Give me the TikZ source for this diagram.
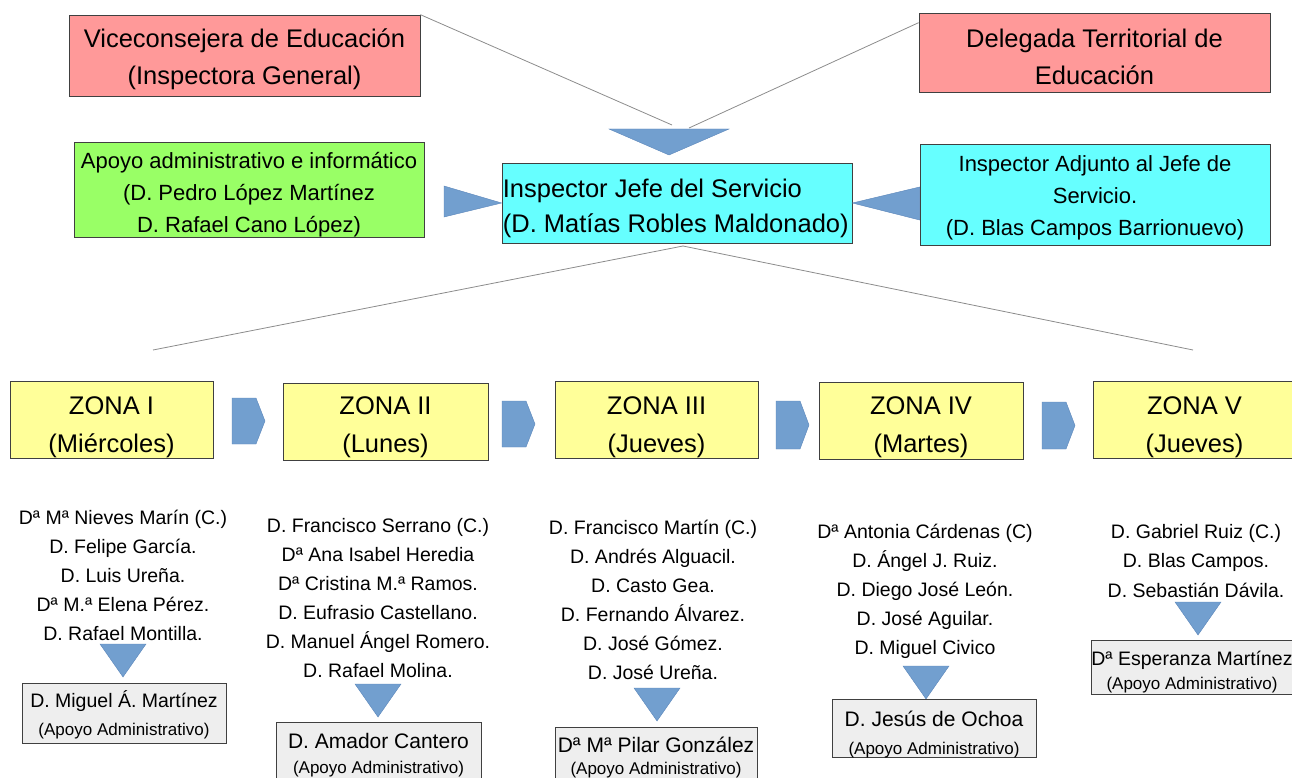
\documentclass[tikz,border=0pt]{standalone}
\usepackage{fontspec}
\setmainfont{Liberation Sans}
\usetikzlibrary{calc, positioning}

\definecolor{rosa}{HTML}{FF9999}
\definecolor{verde}{HTML}{99FF66}
\definecolor{celeste}{HTML}{66FFFF}
\definecolor{amarillo}{HTML}{FFFF99}
\definecolor{gris}{HTML}{EEEEEE}
\definecolor{azul}{HTML}{729FCF}
\definecolor{azulb}{HTML}{5B86BA}

\begin{document}
\begin{tikzpicture}[x=1pt, y=-1pt,
  caja/.style={draw=black!75, line width=0.7pt, inner sep=0pt},
  zona/.style={caja, fill=amarillo, minimum width=204pt, minimum height=77pt},
  aux/.style={caja, fill=gris},
  grande/.style={align=center, inner sep=0pt, font=\fontsize{25.5}{37}\selectfont},
  medio/.style={align=center, inner sep=0pt, font=\fontsize{22}{32}\selectfont},
  lista/.style={align=center, inner sep=0pt, font=\fontsize{19.5}{29}\selectfont},
  nombre/.style={align=center, inner sep=0pt, font=\fontsize{21}{#1}\selectfont},
  tri/.style={fill=azul, draw=azulb, line width=0.4pt},
  linea/.style={draw=black!45, line width=0.8pt}]
  \useasboundingbox (0,0) rectangle (1292,778);
  \clip (0,0) rectangle (1292,778);

  % cargos superiores
  \node[caja, fill=rosa, minimum width=351pt, minimum height=81pt] (vice) at (244.5,55.5) {};
  \node[grande] (vicet) at (244.5,59) {Viceconsejera de Educación\\(Inspectora General)};
  \node[caja, fill=rosa, minimum width=351pt, minimum height=79pt] (dele) at (1094.5,52.5) {};
  \node[grande] (delet) at (1094.5,57) {Delegada Territorial de\\Educación};
  \node[caja, fill=verde, minimum width=350pt, minimum height=95pt] (apoyo) at (249,189.5) {};
  \node[medio] (apoyot) at (249,195) {Apoyo administrativo e informático\\(D. Pedro López Martínez\\D. Rafael Cano López)};
  \node[caja, fill=celeste, minimum width=350pt, minimum height=80pt] (jefe) at (677,203) {};
  \node[grande, align=left, anchor=west, font=\fontsize{25.5}{35}\selectfont] (jefet)
    at ($(jefe.west)+(1,5)$) {Inspector Jefe del Servicio\\(D. Matías Robles Maldonado)};
  \node[caja, fill=celeste, minimum width=350pt, minimum height=101pt] (adjunto) at (1095,194.5) {};
  \node[medio] (adjuntot) at (1095,197.5) {Inspector Adjunto al Jefe de\\Servicio.\\(D. Blas Campos Barrionuevo)};

  \coordinate (topL) at (672,125);
  \coordinate (topR) at (689,128);
  \draw[linea] (vice.north east) -- (topL);
  \draw[linea] ($(dele.north west)+(0,10)$) -- (topR);
  \draw[tri] (609,129) -- (729,129) -- (669,155) -- cycle;
  \draw[tri] (444,186) -- (444,217) -- (jefe.west) -- cycle;
  \draw[tri] (adjunto.west |- 0,187) -- (adjunto.west |- 0,220) -- (jefe.east) -- cycle;

  % reparto en zonas
  \coordinate (fork) at (683,246);
  \coordinate (izq) at (153,350);
  \coordinate (der) at (1193,350);
  \draw[linea] (izq) -- (fork) -- (der);

  \node[zona, minimum width=203pt] (z1) at (111.5,419.5) {};
  \node[zona, minimum width=205pt] (z2) at (385.5,421.5) {};
  \node[zona, minimum width=203pt] (z3) at (656.5,419.5) {};
  \node[zona] (z4) at (921,420.5) {};
  \node[zona, minimum width=203pt] (z5) at (1194.5,420) {};
  \foreach \n/\dia in {1/Miércoles, 2/Lunes, 3/Jueves, 4/Martes, 5/Jueves}
    \node[grande, font=\fontsize{25.5}{38}\selectfont] (z\n t) at (z\n |- 0,427.5)
      {ZONA \ifcase\n\or I\or II\or III\or IV\or V\fi\\(\dia)};
  \foreach \x/\t/\b in {232/398/444, 502/401/447, 776/401/449, 1042/402/449}
    \draw[tri] (\x,\t) -- ({\x+24},\t) -- ({\x+33},{(\t+\b)/2}) -- ({\x+24},\b) -- (\x,\b) -- cycle;

  % inspectores de cada zona
  \node[lista] (lista1) at (123,575)
    {Dª Mª Nieves Marín (C.)\\D. Felipe García.\\D. Luis Ureña.\\Dª M.ª Elena Pérez.\\D. Rafael Montilla.};
  \node[lista] (lista2) at (378,598)
    {D. Francisco Serrano (C.)\\Dª Ana Isabel Heredia\\Dª Cristina M.ª Ramos.\\D. Eufrasio Castellano.\\D. Manuel Ángel Romero.\\D. Rafael Molina.};
  \node[lista] (lista3) at (653,600)
    {D. Francisco Martín (C.)\\D. Andrés Alguacil.\\D. Casto Gea.\\D. Fernando Álvarez.\\D. José Gómez.\\D. José Ureña.};
  \node[lista] (lista4) at (925,591)
    {Dª Antonia Cárdenas (C)\\D. Ángel J. Ruiz.\\D. Diego José León.\\D. José Aguilar.\\D. Miguel Civico};
  \node[lista, font=\fontsize{19.5}{29.5}\selectfont] (lista5) at (1196,561)
    {D. Gabriel Ruiz (C.)\\D. Blas Campos.\\D. Sebastián Dávila.};

  \foreach \x/\y in {123/644, 378/684, 657/688, 926/666, 1198/602}
    \draw[tri] ({\x-23},\y) -- ({\x+23},\y) -- (\x,{\y+33}) -- cycle;

  % apoyo administrativo
  \node[aux, minimum width=204pt, minimum height=60pt] (aux1) at (124,713) {};
  \node[nombre=28] (aux1t) at (124,714.5)
    {{\fontsize{19.5}{28}\selectfont D. Miguel Á. Martínez}\\{\fontsize{17}{28}\selectfont (Apoyo Administrativo)}};
  \node[aux, minimum width=205pt, minimum height=60pt] (aux2) at (378.5,752) {};
  \node[nombre=25] (aux2t) at (378.5,755)
    {D. Amador Cantero\\{\fontsize{17}{25}\selectfont (Apoyo Administrativo)}};
  \node[aux, minimum width=202pt, minimum height=60pt] (aux3) at (656,757) {};
  \node[nombre=22] (aux3t) at (656,757.5)
    {Dª Mª Pilar González\\{\fontsize{17}{22}\selectfont (Apoyo Administrativo)}};
  \node[aux, minimum width=204pt, minimum height=58pt] (aux4) at (934,728) {};
  \node[nombre=28] (aux4t) at (934,734.5)
    {D. Jesús de Ochoa\\{\fontsize{17}{28}\selectfont (Apoyo Administrativo)}};
  \node[aux, minimum width=212pt, minimum height=54pt] (aux5) at (1197,667) {};
  \node[nombre=24] (aux5t) at (1192,672.5)
    {{\fontsize{19.5}{24}\selectfont Dª Esperanza Martínez}\\{\fontsize{17}{24}\selectfont (Apoyo Administrativo)}};
\end{tikzpicture}
\end{document}
